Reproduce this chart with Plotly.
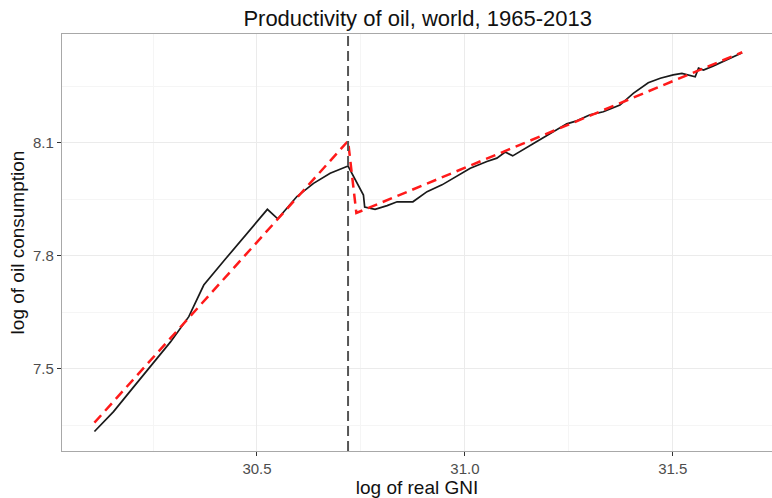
import numpy as np
import plotly.graph_objects as go

# World series, 1965-2013: log of real GNI and log of oil consumption
years = list(range(1965, 2014))
log_gni = [
    30.109, 30.155, 30.200, 30.246, 30.292, 30.336, 30.372, 30.424, 30.477, 30.525,
    30.550, 30.596, 30.636, 30.676, 30.719,
    30.739, 30.756, 30.759, 30.784, 30.813, 30.837, 30.875, 30.909, 30.945, 30.981,
    31.013, 31.053, 31.077, 31.097, 31.115, 31.165, 31.213, 31.245, 31.269, 31.301,
    31.333, 31.373, 31.405, 31.441, 31.470, 31.501, 31.522, 31.538, 31.554, 31.562,
    31.574, 31.598, 31.630, 31.667,
]
log_oil = [
    7.333, 7.386, 7.447, 7.509, 7.571, 7.638, 7.722, 7.791, 7.860, 7.923,
    7.898, 7.957, 7.992, 8.019, 8.038,
    7.998, 7.961, 7.929, 7.923, 7.933, 7.943, 7.943, 7.970, 7.988, 8.012,
    8.032, 8.050, 8.059, 8.075, 8.065, 8.098, 8.129, 8.150, 8.158, 8.174,
    8.182, 8.200, 8.231, 8.259, 8.271, 8.280, 8.284, 8.280, 8.275, 8.298,
    8.293, 8.304, 8.320, 8.339,
]
break_year = 1979

x_ticks = [30.5, 31.0, 31.5]
y_ticks = [7.5, 7.8, 8.1]

# Segmented linear fit: one regime up to the break year, another after it
gni = np.array(log_gni)
oil = np.array(log_oil)
yrs = np.array(years)
fitted = np.empty_like(oil)
for mask in (yrs <= break_year, yrs > break_year):
    slope, intercept = np.polyfit(gni[mask], oil[mask], 1)
    fitted[mask] = intercept + slope * gni[mask]
break_gni = float(gni[yrs == break_year][0])

font_family = "Liberation Sans, Arial, sans-serif"

fig = go.Figure()
fig.add_trace(go.Scatter(
    x=log_gni, y=log_oil, mode="lines",
    line=dict(color="#1a1a1a", width=1.7),
    showlegend=False, hoverinfo="skip",
))
fig.add_trace(go.Scatter(
    x=log_gni, y=fitted.tolist(), mode="lines",
    line=dict(color="#ff1a1a", width=2.5, dash="10px,6px"),
    showlegend=False, hoverinfo="skip",
))
fig.add_vline(x=break_gni, line=dict(color="#555555", width=2, dash="10px,5px"), layer="above")

axis_common = dict(
    showline=True, linecolor="#a8a8a8", linewidth=1.3, mirror=True,
    ticks="outside", ticklen=4, tickwidth=1, tickcolor="#333333",
    gridcolor="#ebebeb", gridwidth=1, zeroline=False,
    tickfont=dict(family=font_family, size=15, color="#4d4d4d"),
    tickformat=".1f",
)

fig.update_layout(
    width=772, height=498,
    margin=dict(l=62, r=0, t=34, b=47),
    paper_bgcolor="white", plot_bgcolor="white",
    title=dict(
        text="Productivity of oil, world, 1965-2013",
        x=0.541, xanchor="center", y=0.963, yanchor="middle",
        font=dict(family=font_family, size=22, color="#111111"),
    ),
    xaxis=dict(
        **axis_common,
        range=[30.031, 31.7387], tickvals=x_ticks,
        minor=dict(dtick=0.25, tick0=30.0, showgrid=True, gridcolor="#f5f5f5", gridwidth=1, ticks=""),
        title=dict(text="log of real GNI", standoff=3,
                   font=dict(family=font_family, size=19, color="#111111")),
    ),
    yaxis=dict(
        **axis_common,
        range=[7.2813, 8.3886], tickvals=y_ticks,
        minor=dict(dtick=0.15, tick0=7.2, showgrid=True, gridcolor="#f5f5f5", gridwidth=1, ticks=""),
        title=dict(text="log of oil consumption", standoff=3,
                   font=dict(family=font_family, size=19, color="#111111")),
    ),
)

fig.write_html("out.html")
